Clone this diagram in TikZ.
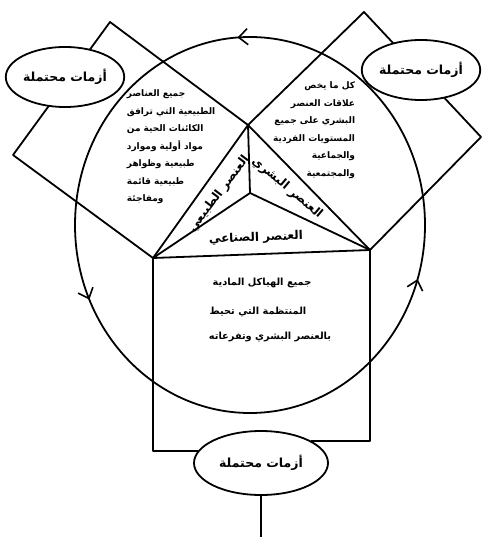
\documentclass[tikz,border=0pt]{standalone}
\usepackage{fontspec}
\newfontfamily\arabicfont[Script=Arabic]{DejaVu Sans}
\TeXXeTstate=1
\usetikzlibrary{arrows.meta,decorations.markings,shapes.geometric}
\newcommand\rtl[1]{\beginR #1\endR}
\begin{document}
\begin{tikzpicture}[x=1pt,y=-1pt,line width=1.8pt,line join=round,
  crisis/.style={ellipse,draw,fill=white,minimum width=116pt,minimum height=60pt,inner sep=0pt,
    font=\arabicfont\bfseries\fontsize{12.5}{14}\selectfont},
  body/.style={inner sep=0pt,font=\arabicfont\bfseries\fontsize{9}{17.5}\selectfont},
  boxtxt/.style={inner sep=0pt,font=\arabicfont\bfseries\fontsize{9.8}{12}\selectfont},
  lab/.style={inner sep=0pt,font=\arabicfont\bfseries\fontsize{12}{14}\selectfont},
  barb/.tip={Straight Barb[length=9pt,width=16pt,line width=1.6pt]}
]
\useasboundingbox (0,0) rectangle (483,537);
% key points
\coordinate (E) at (250,225);
\coordinate (C) at (250,193);
\coordinate (T) at (248,125);
\coordinate (BL) at (153,258);
\coordinate (BR) at (370,250);
\coordinate (L1) at (13,155);
\coordinate (T1) at (110,22);
\coordinate (T2) at (364,12);
\coordinate (R2) at (481,137);
\coordinate (bot) at (263,537);
% big circle with arrows
\draw[postaction={decorate},decoration={markings,
   mark=at position 0.048 with {\arrowreversed{barb}},
   mark=at position 0.433 with {\arrowreversed{barb}},
   mark=at position 0.739 with {\arrowreversed{barb}}}]
  (E) ellipse [x radius=175,y radius=188];
% squares
\draw (BL) -- (L1) -- (T1) -- (T) -- cycle;
\draw (T) -- (T2) -- (R2) -- (BR) -- cycle;
% triangle
\draw (T) -- (C) (C) -- (BL) (C) -- (BR) (BL) -- (BR);
% crisis ellipses
\node[crisis] (cTL) at (65,77) {\rtl{أزمات محتملة}};
\node[crisis] (cTR) at (421,70) {\rtl{أزمات محتملة}};
\node[crisis,minimum width=134pt,minimum height=64pt] (cB) at (261,463) {\rtl{أزمات محتملة}};
% bottom box
\draw (BL) -- (BL |- cB.169) -- (cB.169);
\draw (BR) -- (BR |- cB.24) -- (cB.24);
\draw (cB.south) -- (cB.south |- bot);
% texts
\node[body,align=left,anchor=north west] (txtL) at (126,89) {%
\rtl{جميع العناصر}\\
\rtl{الطبيعية التي ترافق}\\
\rtl{الكائنات الحية من}\\
\rtl{مواد أولية وموارد}\\
\rtl{طبيعية وظواهر}\\
\rtl{طبيعية قائمة}\\
\rtl{ومفاجئة}};
\node[body,align=right,anchor=north east] (txtR) at (356,81) {%
\rtl{كل ما يخص}\\
\rtl{علاقات العنصر}\\
\rtl{البشري على جميع}\\
\rtl{المستويات الفردية}\\
\rtl{والجماعية}\\
\rtl{والمجتمعية}};
\node[boxtxt] (b1) at (262,283) {\rtl{جميع الهياكل المادية}};
\node[boxtxt] (b2) at (258,312) {\rtl{المنتظمة التي تحيط}};
\node[boxtxt] (b3) at (270,337) {\rtl{بالعنصر البشري وتفرعاته}};
% triangle labels
\node[lab,rotate=53] (lN) at (219,194) {\rtl{العنصر الطبيعي}};
\node[lab,rotate=-40] (lH) at (287,188) {\rtl{العنصر البشري}};
\node[lab,rotate=2] (lI) at (256,238) {\rtl{العنصر الصناعي}};
\end{tikzpicture}
\end{document}
